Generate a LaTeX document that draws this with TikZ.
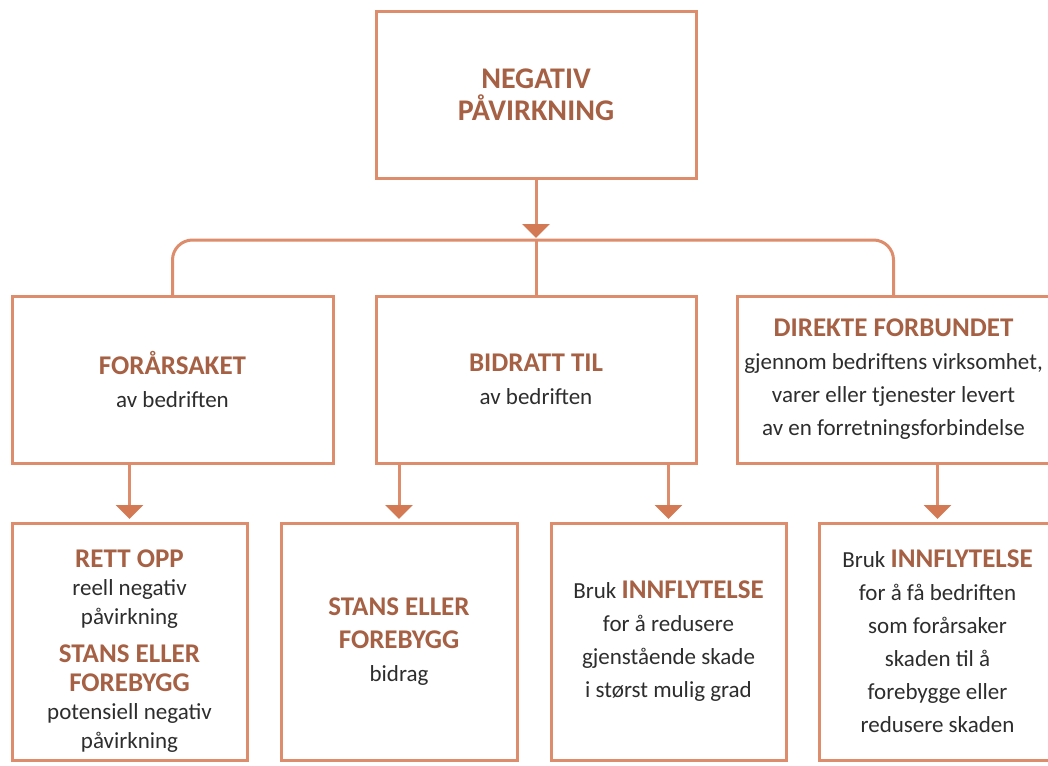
\documentclass[tikz,border=0pt]{standalone}
\usepackage{fontspec}
\setmainfont{Carlito}
\usetikzlibrary{arrows.meta}
\definecolor{linec}{RGB}{221,141,108}
\definecolor{arrc}{RGB}{211,122,84}
\definecolor{hdc}{RGB}{166,96,68}
\definecolor{txc}{RGB}{45,45,45}
\newcommand{\hd}[1]{{\fontsize{27}{33}\selectfont\bfseries\color{hdc}#1}}
\begin{document}
\begin{tikzpicture}[x=1pt,y=-1pt,
  box/.style={draw=linec, line width=3pt, inner sep=0pt, outer sep=0pt, align=center,
    font=\fontsize{23}{33}\selectfont, text=txc, fill=white},
  row2/.style={box, minimum height=167pt},
  row3/.style={box, minimum height=237pt},
  conn/.style={draw=linec, line width=3pt},
  arr/.style={conn, shorten >=2pt, -{Triangle[width=27pt,length=14pt,color=arrc]}}]
\useasboundingbox (0,0) rectangle (1048,765);
\fill[white] (0,0) rectangle (1048,765);
\clip (0,0) rectangle (1048,765);

% top
\node[box, minimum width=320pt, minimum height=166pt,
  font=\fontsize{30}{32}\selectfont\bfseries, text=hdc] (top) at (536,95) {NEGATIV\\PÅVIRKNING};

% second row
\node[row2, minimum width=321pt] (b1) at (172.5,379.5) {\hd{FORÅRSAKET}\\av bedriften};
\node[row2, minimum width=320pt] (b2) at (536,379.5) {\hd{BIDRATT TIL}\\av bedriften};
\node[row2, minimum width=313pt] (b3) at (893.5,379.5) {\hd{DIREKTE FORBUNDET}\\gjennom bedriftens virksomhet,\\varer eller tjenester levert\\av en forretningsforbindelse};

% third row
\node[row3, minimum width=235pt, font=\fontsize{23}{28.5}\selectfont] (ra) at (129.5,641.5)
  {\rule{0pt}{36pt}\hd{RETT OPP}\\reell negativ\\påvirkning\\[10pt]\hd{STANS ELLER}\\\hd{FOREBYGG}\\potensiell negativ\\påvirkning};
\node[row3, minimum width=236pt] (rb) at (399,641.5) {\hd{STANS ELLER}\\\hd{FOREBYGG}\\bidrag};
\node[row3, minimum width=235pt] (rc) at (668.5,641.5) {Bruk \hd{INNFLYTELSE}\\for å redusere\\gjenstående skade\\i størst mulig grad};
\node[row3, minimum width=237pt] (rd) at (937.5,641.5) {Bruk \hd{INNFLYTELSE}\\for å få bedriften\\som forårsaker\\skaden til å\\forebygge eller\\redusere skaden};

% connectors
\coordinate (hub) at (536,240);
\draw[conn, rounded corners=20pt] (b1.north) |- (hub) -| (b3.north);
\draw[conn] (hub) -- (b2.north);
\draw[arr] (top.south) -- (hub);
\draw[arr, shorten >=4pt] (ra.north |- b1.south) -- (ra.north);
\draw[arr, shorten >=4pt] (rb.north |- b2.south) -- (rb.north);
\draw[arr, shorten >=4pt] (rc.north |- b2.south) -- (rc.north);
\draw[arr, shorten >=4pt] (rd.north |- b3.south) -- (rd.north);
\end{tikzpicture}
\end{document}
